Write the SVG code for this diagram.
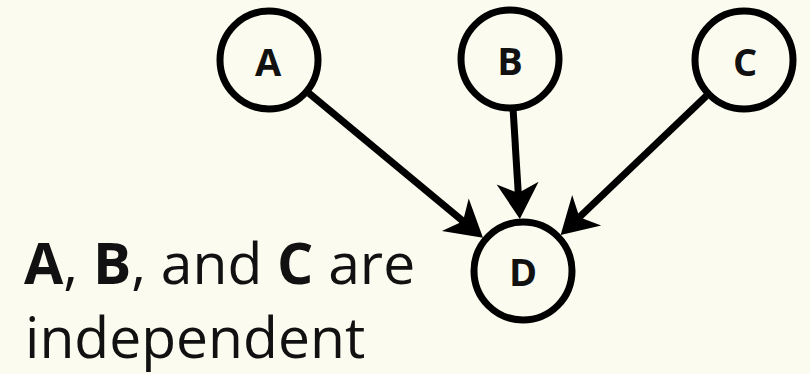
<svg xmlns="http://www.w3.org/2000/svg" width="810" height="374" viewBox="0 0 810 374">
<defs>
<style>
.node circle{fill:#fbfbf0;stroke:#000;stroke-width:7}
.node text{font-family:"Open Sans","Liberation Sans",sans-serif;font-weight:bold;font-size:38px;text-anchor:middle;fill:#111}
.edge{stroke:#000;stroke-width:7;fill:none;marker-end:url(#arr)}
.cap{font-family:"Open Sans","Liberation Sans",sans-serif;font-size:57px;fill:#111}
</style>
<marker id="arr" markerUnits="userSpaceOnUse" markerWidth="50" markerHeight="50" refX="16" refY="22" orient="auto" overflow="visible">
<path d="M36,22 L0,1 L10,22 L0,43 Z" fill="#000"/>
</marker>
</defs>
<rect width="810" height="374" fill="#fbfbf0"/>
<g id="connectors">
<line class="edge" x1="309" y1="93.2" x2="467.6" y2="225"/>
<line class="edge" x1="513.2" y1="110.9" x2="518.6" y2="199.1"/>
<line class="edge" x1="706.4" y1="95.9" x2="575.1" y2="221.3"/>
</g>
<g id="node-A" class="node"><circle cx="269" cy="60" r="49"/><text x="268" y="76">A</text></g>
<g id="node-B" class="node"><circle cx="510" cy="59" r="49"/><text x="510" y="75">B</text></g>
<g id="node-C" class="node"><circle cx="744" cy="60" r="49"/><text x="745" y="76">C</text></g>
<g id="node-D" class="node"><circle cx="523" cy="271" r="49"/><text x="523" y="286">D</text></g>
<g id="caption">
<text class="cap" x="24" y="284"><tspan font-weight="bold">A</tspan>, <tspan font-weight="bold">B</tspan>, and <tspan font-weight="bold">C</tspan> are</text>
<text class="cap" x="25" y="358">independent</text>
</g>
</svg>
